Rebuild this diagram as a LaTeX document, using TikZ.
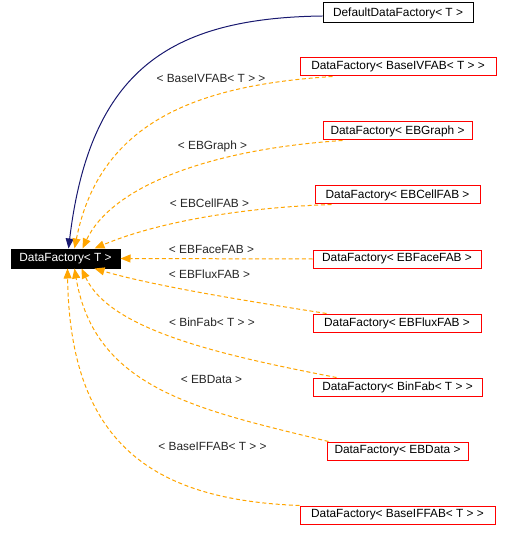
\documentclass[tikz,border=0pt]{standalone}
\usepackage{fontspec}
\setmainfont{Liberation Sans}
\usetikzlibrary{arrows.meta,calc}
\definecolor{dxorange}{HTML}{FFA500}
\definecolor{dxnavy}{HTML}{191970}
\definecolor{dxred}{HTML}{FF0000}
\begin{document}
\begin{tikzpicture}[x=0.75pt,y=-0.75pt,
  every node/.style={font=\fontsize{8.9}{10}\selectfont, inner sep=0pt, text=black},
  cls/.style={draw=dxred, line width=0.75pt, fill=white, minimum height=13.5pt},
  base/.style={draw=black, fill=black, text=white, line width=0.75pt, minimum height=14.25pt, minimum width=81.75pt},
  plain/.style={draw=black, line width=0.75pt, fill=white, minimum height=15pt},
  lbl/.style={text=black!85},
  dep/.style={dxorange, line width=0.75pt, dash pattern=on 3pt off 2pt,
    -{Triangle[length=7.5pt,width=6pt]}},
  inh/.style={dxnavy, line width=0.75pt, -{Triangle[length=7.5pt,width=6pt]}}]
\useasboundingbox (0,0) rectangle (509,541);

\node[base] (df) at (65.5,258.5) {DataFactory< T >};
\node[plain, minimum width=112.5pt] (dflt) at (398,13) {DefaultDataFactory< T >};
\node[cls, minimum width=147pt] (ivfab) at (398,67) {DataFactory< BaseIVFAB< T > >};
\node[cls, minimum width=111.75pt] (graph) at (397.5,131) {DataFactory< EBGraph >};
\node[cls, minimum width=123.75pt] (cell) at (397.5,195) {DataFactory< EBCellFAB >};
\node[cls, minimum width=126pt] (face) at (397,259) {DataFactory< EBFaceFAB >};
\node[cls, minimum width=126pt] (flux) at (397,323) {DataFactory< EBFluxFAB >};
\node[cls, minimum width=126.75pt] (bin) at (397.5,387) {DataFactory< BinFab< T > >};
\node[cls, minimum width=105.75pt] (data) at (397.5,451) {DataFactory< EBData >};
\node[cls, minimum width=146.25pt] (iffab) at (397.5,515) {DataFactory< BaseIFFAB< T > >};

\draw[inh] ([shift={(0,3)}]dflt.west) .. controls (170,18) and (90,70) .. ([shift={(58,0)}]df.north west);
\draw[dep] ([shift={(33,0)}]ivfab.south west) .. controls (200,85) and (100,120) .. ([shift={(64,0)}]df.north west);
\draw[dep] ([shift={(20,0)}]graph.south west) .. controls (200,150) and (110,190) .. ([shift={(72,0)}]df.north west);
\draw[dep] ([shift={(17,0)}]cell.south west) .. controls (230,208) and (150,225) .. ([shift={(84,0)}]df.north west);
\draw[dep] (face.west) -- (df.east);
\draw[dep] ([shift={(14,0)}]flux.north west) .. controls (240,300) and (150,285) .. ([shift={(84,0)}]df.south west);
\draw[dep] ([shift={(24,0)}]bin.north west) .. controls (220,355) and (110,330) .. ([shift={(71,0)}]df.south west);
\draw[dep] ([shift={(2,0)}]data.north west) .. controls (200,410) and (95,390) .. ([shift={(64,0)}]df.south west);
\draw[dep] (iffab.north west) .. controls (160,500) and (70,450) .. ([shift={(57,0)}]df.south west);

\node[lbl] (l1) at (211,78) {< BaseIVFAB< T > >};
\node[lbl] (l2) at (212.5,146) {< EBGraph >};
\node[lbl] (l3) at (209.5,203) {< EBCellFAB >};
\node[lbl] (l4) at (211.5,249) {< EBFaceFAB >};
\node[lbl] (l5) at (209.5,274) {< EBFluxFAB >};
\node[lbl] (l6) at (212,322) {< BinFab< T > >};
\node[lbl] (l7) at (211.5,379) {< EBData >};
\node[lbl] (l8) at (212.5,446) {< BaseIFFAB< T > >};
\end{tikzpicture}
\end{document}
